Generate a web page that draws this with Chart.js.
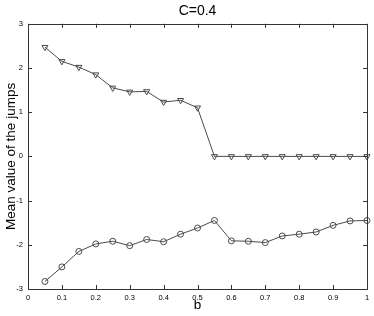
<!DOCTYPE html>
<html lang="en">
<head>
<meta charset="UTF-8">
<title>C=0.4</title>
<script src="https://cdn.jsdelivr.net/npm/chart.js"></script>
<style>
    body { margin: 0; background: #fff; }
    #wrap { width: 374px; height: 316px; }
</style>
</head>
<body>
<div id="wrap"><canvas id="chart" width="374" height="316"></canvas></div>
<script>
// data
const bValues = [0.05, 0.1, 0.15, 0.2, 0.25, 0.3, 0.35, 0.4, 0.45, 0.5,
                 0.55, 0.6, 0.65, 0.7, 0.75, 0.8, 0.85, 0.9, 0.95, 1.0];
const upperJumps = [2.47, 2.15, 2.02, 1.85, 1.55, 1.46, 1.47, 1.23, 1.27, 1.10,
                    0, 0, 0, 0, 0, 0, 0, 0, 0, 0];
const lowerJumps = [-2.83, -2.50, -2.15, -1.98, -1.92, -2.02, -1.88, -1.93, -1.76, -1.62,
                    -1.45, -1.91, -1.92, -1.95, -1.80, -1.76, -1.71, -1.56, -1.46, -1.45];
const xTicks = [0, 0.1, 0.2, 0.3, 0.4, 0.5, 0.6, 0.7, 0.8, 0.9, 1];
const yTicks = [-3, -2, -1, 0, 1, 2, 3];

const font = "'Liberation Sans', Arial, sans-serif";
const lineColor = '#4a4a4a';

function toPoints(ys) {
    return bValues.map((b, i) => ({ x: b, y: ys[i] }));
}

// matlab-like box with inward ticks on all four sides
const boxTicks = {
    id: 'boxTicks',
    afterDraw(chart) {
        const ctx = chart.ctx;
        const a = chart.chartArea;
        const xs = chart.scales.x, ys = chart.scales.y;
        const len = 4;
        ctx.save();
        ctx.strokeStyle = '#333';
        ctx.lineWidth = 1;
        ctx.strokeRect(Math.round(a.left) + 0.5, Math.round(a.top) + 0.5,
                       Math.round(a.right - a.left), Math.round(a.bottom - a.top));
        ctx.beginPath();
        xTicks.forEach(v => {
            const px = Math.round(xs.getPixelForValue(v)) + 0.5;
            ctx.moveTo(px, a.bottom); ctx.lineTo(px, a.bottom - len);
            ctx.moveTo(px, a.top); ctx.lineTo(px, a.top + len);
        });
        yTicks.forEach(v => {
            const py = Math.round(ys.getPixelForValue(v)) + 0.5;
            ctx.moveTo(a.left, py); ctx.lineTo(a.left + len, py);
            ctx.moveTo(a.right, py); ctx.lineTo(a.right - len, py);
        });
        ctx.stroke();
        ctx.restore();
    }
};

new Chart(document.getElementById('chart'), {
    type: 'line',
    data: {
        datasets: [{
            label: 'upper',
            data: toPoints(upperJumps),
            borderColor: lineColor,
            borderWidth: 1,
            pointStyle: 'triangle',
            rotation: 180,
            pointRadius: 3.5,
            pointBackgroundColor: 'rgba(255,255,255,0)',
            pointBorderColor: lineColor,
            pointBorderWidth: 1,
            clip: false
        }, {
            label: 'lower',
            data: toPoints(lowerJumps),
            borderColor: lineColor,
            borderWidth: 1,
            pointStyle: 'circle',
            pointRadius: 3,
            pointBackgroundColor: 'rgba(255,255,255,0)',
            pointBorderColor: lineColor,
            pointBorderWidth: 1,
            clip: false
        }]
    },
    options: {
        responsive: false,
        animation: false,
        events: [],
        layout: { padding: { left: 0, right: 7, top: 0, bottom: 0 } },
        plugins: {
            legend: { display: false },
            tooltip: { enabled: false },
            title: {
                display: true,
                text: 'C=0.4',
                fullSize: false,
                color: '#000',
                font: { family: font, size: 14, weight: 'normal' },
                padding: { top: 3, bottom: 4 }
            }
        },
        scales: {
            x: {
                type: 'linear',
                min: 0,
                max: 1,
                afterBuildTicks(scale) { scale.ticks = xTicks.map(v => ({ value: v })); },
                afterFit(scale) { scale.height = 27; },
                grid: { display: false, drawTicks: false },
                border: { display: false },
                ticks: {
                    padding: 4,
                    maxRotation: 0,
                    autoSkip: false,
                    color: '#000',
                    font: { family: font, size: 7.5 },
                    callback: v => String(v)
                },
                title: {
                    display: true,
                    text: 'b',
                    color: '#000',
                    font: { family: font, size: 13.5 },
                    padding: { top: 0, bottom: 3 }
                }
            },
            y: {
                type: 'linear',
                min: -3,
                max: 3,
                afterBuildTicks(scale) { scale.ticks = yTicks.map(v => ({ value: v })); },
                afterFit(scale) { scale.width = 28; },
                grid: { display: false, drawTicks: false },
                border: { display: false },
                ticks: {
                    padding: 5,
                    autoSkip: false,
                    color: '#000',
                    font: { family: font, size: 7.5 },
                    callback: v => String(v)
                },
                title: {
                    display: true,
                    text: 'Mean value of the jumps',
                    color: '#000',
                    font: { family: font, size: 13.5 },
                    padding: { top: 3, bottom: 0 }
                }
            }
        }
    },
    plugins: [boxTicks]
});
</script>
</body>
</html>
